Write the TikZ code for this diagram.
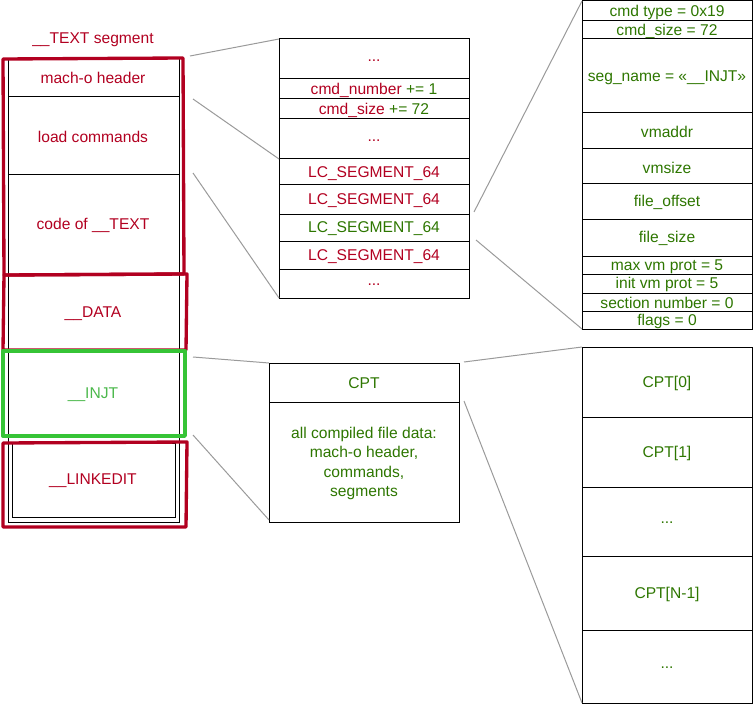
\documentclass[tikz,border=0pt]{standalone}
\usepackage{fontspec}
\setmainfont{Liberation Sans}
\usepackage{xcolor}
\usepackage{tikz}
\usetikzlibrary{calc}
\definecolor{segred}{HTML}{B20020}
\definecolor{injgreen}{HTML}{36C436}
\definecolor{txtred}{HTML}{B20020}
\definecolor{txtgreen}{HTML}{2D7600}
\definecolor{injtxt}{HTML}{4CB84C}
\definecolor{linkgray}{HTML}{9A9A9A}
\tikzset{
  cellbox/.style={draw=black, line width=0.75pt},
  segbox/.style={draw=segred, line width=2.5pt, line join=round},
  injbox/.style={draw=injgreen, line width=2.5pt, line join=round},
  conn/.style={draw=linkgray, line width=0.75pt},
  lab/.style={font=\fontsize{11.7}{14.6}\selectfont, inner sep=0pt, align=center, yshift=-1pt},
  labr/.style={lab, text=txtred},
  labg/.style={lab, text=txtgreen},
}

\begin{document}
\begin{tikzpicture}[x=0.75pt, y=-0.75pt]
  \useasboundingbox (0,0) rectangle (753,706);

  % left column: file layout
  \draw[cellbox] (8,59) rectangle (179,522);
  \draw[cellbox] (8,97) -- (179,97);
  \draw[cellbox] (8,175) -- (179,175);
  \draw[cellbox] (12,443) rectangle (175,517);
  \draw[segbox] (3,59) -- (183,58) -- (184,274) -- (4,275) -- cycle;
  \draw[segbox] (4,275) -- (187,274) -- (186,350) -- (3,350) -- cycle;
  \draw[injbox] (3,351) -- (185,351) -- (185,436) -- (3,436) -- cycle;
  \draw[segbox] (3,443) -- (187,442) -- (186,527) -- (3,527) -- cycle;

  \node[labr] (seg-text) at (93,38) {\_\_TEXT segment};
  \node[labr] (hdr) at (93,77) {mach-o header};
  \node[labr] (lcmd) at (93,136) {load commands};
  \node[labr] (code) at (93,224) {code of \_\_TEXT};
  \node[labr] (data) at (93,312) {\_\_DATA};
  \node[lab, text=injtxt] (injt) at (93,393) {\_\_INJT};
  \node[labr] (linkedit) at (93,479) {\_\_LINKEDIT};

  % middle column: load commands
  \draw[cellbox] (279,39) rectangle (469,298);
  \foreach \y in {79,99,119,159,185,214,241,269}
    \draw[cellbox] (279,\y) -- (469,\y);
  \coordinate (mid-nw) at (279,39);
  \coordinate (mid-lc) at (279,159);
  \coordinate (mid-sw) at (279,298);

  \node[labr] (m-dots1) at (374,59) {...};
  \node[labr] (m-num) at (374,89) {cmd\_number \textcolor{txtgreen}{+= 1}};
  \node[labr] (m-size) at (374,109) {cmd\_size \textcolor{txtgreen}{+= 72}};
  \node[labr] (m-dots2) at (374,139) {...};
  \node[labr] (m-lc1) at (374,172) {LC\_SEGMENT\_64};
  \node[labr] (m-lc2) at (374,199.5) {LC\_SEGMENT\_64};
  \node[labg] (m-lc3) at (374,227.5) {LC\_SEGMENT\_64};
  \node[labr] (m-lc4) at (374,255) {LC\_SEGMENT\_64};
  \node[labr] (m-dots3) at (374,283.5) {...};

  % right column: new segment command
  \draw[cellbox] (582,0.5) rectangle (752,329);
  \foreach \y in {21,39,113,149,184,219,256,274,293,311}
    \draw[cellbox] (582,\y) -- (752,\y);
  \coordinate (cmd-nw) at (582,1);
  \coordinate (cmd-sw) at (582,329);

  \node[labg] (r-type) at (667,11) {cmd type = 0x19};
  \node[labg] (r-size) at (667,30) {cmd\_size = 72};
  \node[labg] (r-name) at (667,76) {seg\_name = «\_\_INJT»};
  \node[labg] (r-vmaddr) at (667,131) {vmaddr};
  \node[labg] (r-vmsize) at (667,166.5) {vmsize};
  \node[labg] (r-foff) at (667,201.5) {file\_offset};
  \node[labg] (r-fsize) at (667,237.5) {file\_size};
  \node[labg] (r-maxp) at (667,265) {max vm prot = 5};
  \node[labg] (r-initp) at (667,283.5) {init vm prot = 5};
  \node[labg] (r-sect) at (667,302) {section number = 0};
  \node[labg] (r-flags) at (667,320) {flags = 0};

  % CPT box
  \draw[cellbox] (269,363) rectangle (459,522);
  \draw[cellbox] (269,402) -- (459,402);
  \coordinate (cpt-nw) at (269,363);
  \coordinate (cpt-sw) at (269,520);
  \node[labg] (cpt-head) at (364,382) {CPT};
  \node[labg] (cpt-body) at (364,462) {all compiled file data:\\mach-o header,\\commands,\\segments};

  % right column: CPT entries
  \draw[cellbox] (582,347) rectangle (752,703);
  \foreach \y in {417,487,556,630}
    \draw[cellbox] (582,\y) -- (752,\y);
  \coordinate (arr-nw) at (582,347);
  \coordinate (arr-sw) at (582,703);

  \node[labg] (c0) at (667,382) {CPT[0]};
  \node[labg] (c1) at (667,452.5) {CPT[1]};
  \node[labg] (c2) at (667,521.5) {...};
  \node[labg] (c3) at (667,593) {CPT[N-1]};
  \node[labg] (c4) at (667,666.5) {...};

  % connectors
  \coordinate (hdr-out) at (190,56);
  \coordinate (lcmd-out) at (193,99);
  \coordinate (code-out) at (193,173);
  \coordinate (lc3-top) at (474,212);
  \coordinate (lc3-bot) at (476,240);
  \coordinate (injt-top) at (193,357);
  \coordinate (injt-bot) at (193,435);
  \coordinate (cpt-top) at (464,362);
  \coordinate (cpt-bot) at (464,401);

  \draw[conn] (hdr-out) -- (mid-nw);
  \draw[conn] (lcmd-out) -- (mid-lc);
  \draw[conn] (code-out) -- (mid-sw);
  \draw[conn] (lc3-top) -- (cmd-nw);
  \draw[conn] (lc3-bot) -- (cmd-sw);
  \draw[conn] (injt-top) -- (cpt-nw);
  \draw[conn] (injt-bot) -- (cpt-sw);
  \draw[conn] (cpt-top) -- (arr-nw);
  \draw[conn] (cpt-bot) -- (arr-sw);
\end{tikzpicture}
\end{document}
